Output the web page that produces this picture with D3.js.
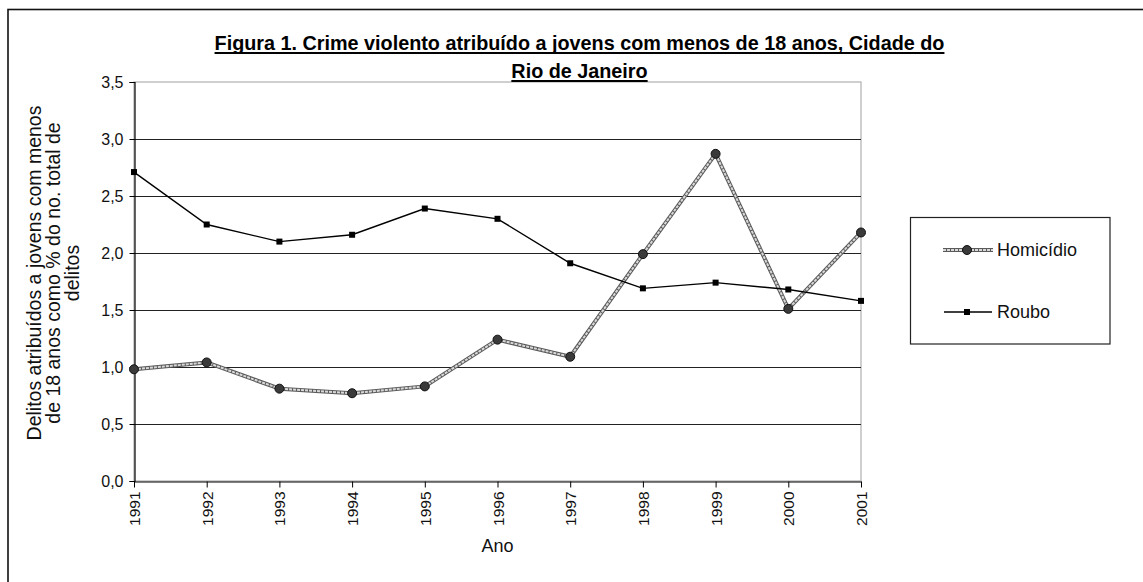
<!DOCTYPE html>
<html><head><meta charset="utf-8">
<script src="https://cdn.jsdelivr.net/npm/d3@7"></script>
<style>
html,body{margin:0;padding:0;background:#fff;}
svg{display:block;font-family:"Liberation Sans",Arial,Helvetica,sans-serif;}
</style></head>
<body>
<svg id="chart" width="1143" height="582"></svg>
<script>
const years = [1991,1992,1993,1994,1995,1996,1997,1998,1999,2000,2001];
const homicidio = [0.98,1.04,0.81,0.77,0.83,1.24,1.09,1.99,2.87,1.51,2.18];
const roubo = [2.71,2.25,2.10,2.16,2.39,2.30,1.91,1.69,1.74,1.68,1.58];
const yTicks = [0,0.5,1.0,1.5,2.0,2.5,3.0,3.5];
const titleLines = ["Figura 1. Crime violento atribuído a jovens com menos de 18 anos, Cidade do","Rio de Janeiro"];
const yTitleLines = ["Delitos atribuídos a jovens com menos","de 18 anos como % do no. total de","delitos"];
const xTitle = "Ano";
const seriesNames = ["Homicídio","Roubo"];

const FONT = "'Liberation Sans',Arial,sans-serif";
const svg = d3.select("#chart");
const L=134,R=861,T=82,B=481;
const x = d3.scalePoint().domain(years).range([L,R]);
const y = d3.scaleLinear().domain([0,3.5]).range([B,T]);
const fmt = v => d3.format(".1f")(v).replace(".",",");

// outer border
svg.append("rect").attr("x",8).attr("y",9.5).attr("width",1300).attr("height",800)
  .attr("fill","none").attr("stroke","#111").attr("stroke-width",1.6);

// plot area border (gray)
svg.append("rect").attr("x",L).attr("y",T).attr("width",R-L).attr("height",B-T)
  .attr("fill","none").attr("stroke","#b0b0b0").attr("stroke-width",1.2);

// gridlines
svg.append("g").selectAll("line").data(yTicks.filter(d=>d>0&&d<3.5)).join("line")
  .attr("x1",L).attr("x2",R).attr("y1",d=>Math.round(y(d))+0.5).attr("y2",d=>Math.round(y(d))+0.5)
  .attr("stroke","#222").attr("stroke-width",1);

// y axis
const ya = svg.append("g").attr("transform",`translate(${L+0.5},0)`)
  .call(d3.axisLeft(y).tickValues(yTicks).tickFormat(fmt).tickSize(5).tickPadding(6));
ya.attr("font-family",FONT).attr("font-size",16);
ya.select(".domain").attr("stroke","#000").attr("stroke-width",1.2);
ya.selectAll(".tick line").attr("stroke","#000");
ya.selectAll("text").attr("font-size","16px").attr("fill","#111");

// x axis
const xa = svg.append("g").attr("transform",`translate(0,${B+0.5})`)
  .call(d3.axisBottom(x).tickSize(6).tickSizeOuter(0));
xa.attr("font-family",FONT).attr("font-size",15.5);
xa.select(".domain").attr("stroke","#000").attr("stroke-width",1.2);
xa.selectAll(".tick line").attr("stroke","#000");
xa.selectAll("text").attr("font-size","15.5px").attr("fill","#111")
  .attr("text-anchor","end").attr("transform","rotate(-90)")
  .attr("x",-10).attr("y",0).attr("dy","0.36em");

// lines
const lineGen = d3.line().x((d,i)=>x(years[i])).y(d=>y(d));
svg.append("path").datum(homicidio).attr("d",lineGen).attr("fill","none")
  .attr("stroke","#5a5a5a").attr("stroke-width",4).attr("stroke-linejoin","round");
svg.append("path").datum(homicidio).attr("d",lineGen).attr("fill","none")
  .attr("stroke","#d8d8d8").attr("stroke-width",2).attr("stroke-dasharray","3,1");
svg.append("g").selectAll("circle").data(homicidio).join("circle")
  .attr("cx",(d,i)=>x(years[i])).attr("cy",d=>y(d)).attr("r",4.5)
  .attr("fill","#3a3a3a").attr("stroke","#111").attr("stroke-width",1);

svg.append("path").datum(roubo).attr("d",lineGen).attr("fill","none")
  .attr("stroke","#000").attr("stroke-width",1.4);
svg.append("g").selectAll("rect").data(roubo).join("rect")
  .attr("x",(d,i)=>x(years[i])-3).attr("y",d=>y(d)-3).attr("width",6).attr("height",6)
  .attr("fill","#000");

// title
const tg = svg.append("g").attr("font-family",FONT).attr("font-weight","bold").attr("font-size","19.8px").attr("fill","#000");
const titleBase = [50,78];
titleLines.forEach((t,i)=>{
  const te = tg.append("text").attr("x",579.5).attr("y",titleBase[i]).attr("text-anchor","middle").text(t);
  const w = te.node().getComputedTextLength();
  tg.append("line").attr("x1",579.5-w/2).attr("x2",579.5+w/2)
    .attr("y1",titleBase[i]+3).attr("y2",titleBase[i]+3).attr("stroke","#000").attr("stroke-width",2);
});

// y title (clipped at top)
svg.append("defs").append("clipPath").attr("id","yclip")
  .append("rect").attr("x",0).attr("y",102).attr("width",120).attr("height",400);
const yt = svg.append("g").attr("clip-path","url(#yclip)").attr("font-family",FONT);
const yBase = [41,60,79];
yTitleLines.forEach((t,i)=>{
  yt.append("text").attr("transform",`translate(${yBase[i]},273) rotate(-90)`)
    .attr("text-anchor","middle").attr("font-size","19.5px").attr("fill","#111").text(t);
});

// x title
svg.append("text").attr("x",(L+R)/2).attr("y",552).attr("text-anchor","middle")
  .attr("font-family",FONT).attr("font-size","18px").attr("fill","#111").text(xTitle);

// legend
const lg = svg.append("g").attr("font-family",FONT);
lg.append("rect").attr("x",910.5).attr("y",217.5).attr("width",199.5).attr("height",126.5)
  .attr("fill","#fff").attr("stroke","#222").attr("stroke-width",1.2);
const ly = [250,312];
const hs = d3.line()([[943,ly[0]],[993,ly[0]]]);
lg.append("path").attr("d",hs).attr("stroke","#5a5a5a").attr("stroke-width",4);
lg.append("path").attr("d",hs).attr("stroke","#d8d8d8").attr("stroke-width",2).attr("stroke-dasharray","3,1");
lg.append("circle").attr("cx",967).attr("cy",ly[0]).attr("r",4.5).attr("fill","#3a3a3a").attr("stroke","#111");
lg.append("line").attr("x1",944).attr("x2",992).attr("y1",ly[1]).attr("y2",ly[1]).attr("stroke","#000").attr("stroke-width",1.4);
lg.append("rect").attr("x",964).attr("y",ly[1]-3).attr("width",6).attr("height",6).attr("fill","#000");
seriesNames.forEach((n,i)=>{
  lg.append("text").attr("x",997).attr("y",ly[i]).attr("dy","0.36em")
    .attr("font-size","18px").attr("fill","#111").text(n);
});
</script>
</body></html>
